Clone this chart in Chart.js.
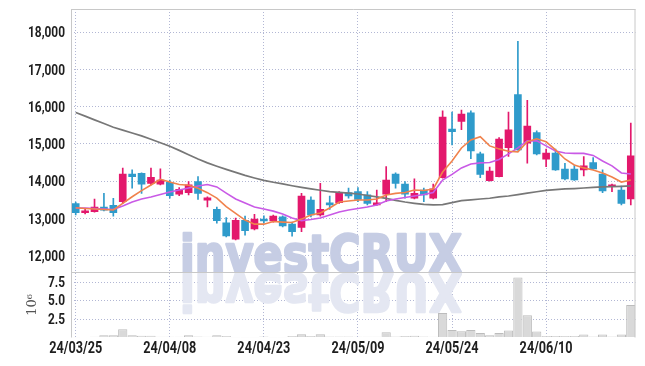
<!DOCTYPE html>
<html><head><meta charset="utf-8">
<script src="https://cdn.jsdelivr.net/npm/chart.js@4.4.1/dist/chart.umd.min.js"></script>
<style>html,body{margin:0;padding:0;background:#fff;}#wrap{width:645px;height:366px;}</style>
</head><body><div id="wrap"><canvas id="c" width="645" height="366"></canvas></div>
<script>
const dates = ["24/03/25","24/03/26","24/03/27","24/03/28","24/03/29","24/04/01","24/04/02","24/04/03","24/04/04","24/04/05",
"24/04/08","24/04/09","24/04/11","24/04/12","24/04/15","24/04/16","24/04/17","24/04/18","24/04/19","24/04/22",
"24/04/23","24/04/24","24/04/25","24/04/26","24/04/29","24/04/30","24/05/02","24/05/03","24/05/07","24/05/08",
"24/05/09","24/05/10","24/05/13","24/05/14","24/05/16","24/05/17","24/05/20","24/05/21","24/05/22","24/05/23",
"24/05/24","24/05/27","24/05/28","24/05/29","24/05/30","24/05/31","24/06/03","24/06/04","24/06/05","24/06/07",
"24/06/10","24/06/11","24/06/12","24/06/13","24/06/14","24/06/17","24/06/18","24/06/19","24/06/20","24/06/21"];
const openP = [13400,13150,13180,13300,13350,13450,14190,14210,13940,13920,
13970,13650,13690,13990,13490,13240,12880,12440,12950,12720,
12980,12930,13040,12850,12760,13490,13090,13420,13420,13690,
13720,13630,13360,13650,14190,13920,13540,13760,13540,14090,
15400,15600,15830,14730,14010,14120,14900,16320,15020,15300,
14590,14750,14320,14320,14300,14500,14190,13850,13760,13520];
const highP = [13440,13250,13520,13670,13540,14350,14300,14220,14350,14330,
14030,13830,13990,14120,13580,13300,13020,13010,13060,13110,
13070,13090,13070,12900,13670,13580,13940,13600,13720,13810,
13830,13720,13760,14390,14220,13990,14060,13810,13920,15890,
15850,15910,15890,14780,14380,15170,15850,17750,16170,15350,
14860,14860,14480,14420,14660,14630,14300,13920,13870,15560];
const lowP = [13090,13120,13170,13200,13060,13400,13810,13670,13900,13900,
13540,13610,13630,13510,13310,12870,12500,12420,12550,12690,
12870,12900,12770,12520,12640,13040,13060,13240,13400,13540,
13450,13360,13350,13450,13810,13540,13520,13450,13520,14080,
14970,15380,14600,14090,14000,14110,14660,14830,14480,14700,
14390,14290,14030,14020,14140,14320,13690,13720,13360,13360];
const closeP = [13150,13200,13300,13220,13150,14190,14120,13920,14100,14030,
13610,13780,13900,13670,13550,12940,12530,12950,12670,12980,
12930,13060,12800,12640,13600,13090,13240,13360,13690,13600,
13510,13400,13420,14030,13940,13650,13670,13630,13790,15720,
15330,15800,14810,14180,14270,15130,15380,14840,15480,14730,
14750,14300,14060,14030,14410,14330,13740,13900,13400,14680];
const maShort = [13285,13265,13250,13237,13225,13405,13580,13745,13895,14050,
13975,13910,13890,13810,13690,13545,13315,13135,12955,12845,
12845,12915,12900,12890,12980,13090,13145,13280,13440,13465,
13495,13495,13520,13630,13670,13695,13760,13750,13790,14245,
14540,14890,15105,15190,14945,14865,14800,14785,15055,15135,
15055,14840,14595,14435,14355,14300,14220,14110,13975,14030];
const maMid = [13280,13280,13265,13250,13237,13330,13440,13520,13575,13640,
13710,13760,13815,13870,13910,13845,13680,13520,13410,13305,
13250,13195,13115,13010,12940,12970,13010,13090,13170,13225,
13265,13305,13360,13465,13520,13560,13600,13640,13695,14030,
14180,14355,14460,14490,14500,14580,14730,14890,15080,15080,
14945,14810,14755,14745,14745,14690,14540,14410,14220,14190];
const maLong = [15840,15745,15645,15545,15445,15370,15290,15215,15125,15030,
14935,14825,14710,14595,14490,14400,14315,14235,14155,14085,
14020,13970,13925,13875,13830,13790,13755,13720,13700,13680,
13655,13615,13575,13535,13485,13440,13405,13375,13360,13370,
13425,13475,13495,13520,13540,13575,13600,13640,13680,13715,
13750,13770,13790,13800,13815,13830,13845,13850,13860,13870];
const volumeM = [0.05,0.08,0.1,0.3,0.3,1.1,0.3,0.25,0.25,0.1,
0.1,0.1,0.3,0.15,0.1,0.3,0.2,0.05,0.05,0.05,
0.15,0.05,0.05,0.2,0.45,0.2,0.45,0.15,0.15,0.15,
0.1,0.1,0.1,0.7,0.15,0.2,0.25,0.15,0.1,3.3,
1.0,0.85,1.0,0.6,0.3,0.6,0.95,8.1,3.0,0.8,
0.2,0.2,0.2,0.2,0.4,0.15,0.4,0.15,0.4,4.4];
const priceTicks = [12000,13000,14000,15000,16000,17000,18000];
const volTicks = [0,2.5,5,7.5];
const dateTickEvery = 10;

const UP = '#e3186c', DOWN = '#2f9bcb';
const GRID = 'rgba(165,170,205,0.85)';
const candleColor = (c) => closeP[c.dataIndex] >= openP[c.dataIndex] ? UP : DOWN;

function drawScaledText(ctx, txt, x, y, align, sx){
  const w = ctx.measureText(txt).width * sx;
  let left = align === 'right' ? x - w : align === 'center' ? x - w/2 : x;
  ctx.save(); ctx.translate(left, y); ctx.scale(sx, 1);
  ctx.textAlign = 'left'; ctx.fillText(txt, 0, 0); ctx.restore();
}

const deco = {
  id:'deco',
  beforeDatasetsDraw(chart){
    const ctx = chart.ctx, a = chart.chartArea;
    const base = chart.scales.yVol.top;
    ctx.save();
    ctx.beginPath(); ctx.rect(a.left, a.top, a.right-a.left, a.bottom-a.top); ctx.clip();
    ctx.font = 'bold 52px "DejaVu Sans","Liberation Sans",sans-serif';
    const txt = 'investCRUX';
    const w = ctx.measureText(txt).width;
    const sx = 282 / w;
    ctx.textBaseline = 'alphabetic';
    ctx.lineJoin = 'round';
    ctx.save(); ctx.translate(180, base); ctx.scale(sx, 1);
    ctx.fillStyle = 'rgb(198,205,228)'; ctx.strokeStyle = 'rgb(198,205,228)'; ctx.lineWidth = 2.5;
    ctx.fillText(txt, 0, 0); ctx.strokeText(txt, 0, 0); ctx.restore();
    ctx.save(); ctx.translate(180, base+2); ctx.scale(sx, -1);
    ctx.fillStyle = 'rgb(228,231,242)'; ctx.strokeStyle = 'rgb(228,231,242)'; ctx.lineWidth = 2.5;
    ctx.fillText(txt, 0, 0); ctx.strokeText(txt, 0, 0); ctx.restore();
    ctx.restore();
  },
  afterDatasetsDraw(chart){
    const ctx = chart.ctx, a = chart.chartArea;
    const sep = chart.scales.yVol.top;
    ctx.save();
    ctx.strokeStyle = '#c8c8c8'; ctx.lineWidth = 1;
    ctx.beginPath();
    ctx.moveTo(a.left+0.5, a.top); ctx.lineTo(a.left+0.5, a.bottom);
    ctx.moveTo(a.left, a.top+0.5); ctx.lineTo(a.right, a.top+0.5);
    ctx.moveTo(a.right-0.5, a.top); ctx.lineTo(a.right-0.5, a.bottom);
    ctx.moveTo(a.left, Math.round(sep)+0.5); ctx.lineTo(a.right, Math.round(sep)+0.5);
    ctx.stroke();
    ctx.restore();
  },
  afterDraw(chart){
    const ctx = chart.ctx;
    const sy = chart.scales.y, sv = chart.scales.yVol, sxs = chart.scales.x;
    ctx.save();
    ctx.fillStyle = '#1e1e1e';
    ctx.textBaseline = 'middle';
    ctx.font = 'bold 15.5px Roboto, "DejaVu Sans", sans-serif';
    const pScale = 37 / ctx.measureText('18,000').width;
    priceTicks.forEach(v => drawScaledText(ctx, v.toLocaleString('en-US'), 65, sy.getPixelForValue(v)+1.5, 'right', pScale));
    volTicks.forEach(v => { if (v !== 0) drawScaledText(ctx, v.toFixed(1), 65, sv.getPixelForValue(v)+1, 'right', pScale); });
    ctx.font = 'bold 16.5px Roboto, "DejaVu Sans", sans-serif';
    const xScale = 53 / ctx.measureText('24/03/25').width;
    dates.forEach((d,i) => { if (i % dateTickEvery === 0) drawScaledText(ctx, d, sxs.getPixelForValue(i), 349, 'center', xScale); });
    ctx.restore();
    ctx.save();
    ctx.translate(33, (sv.top+sv.bottom)/2);
    ctx.rotate(-Math.PI/2);
    ctx.fillStyle = '#555';
    ctx.font = '13px "DejaVu Serif",serif';
    ctx.textAlign = 'center'; ctx.textBaseline = 'middle';
    ctx.fillText('10\u2076', 0, 0);
    ctx.restore();
  }
};

new Chart(document.getElementById('c'), {
  type:'bar',
  data:{
    labels: dates,
    datasets:[
      {type:'line', data: maShort, borderColor:'#f0824c', borderWidth:1.6, pointRadius:0, yAxisID:'y', order:0, tension:0},
      {type:'line', data: maMid, borderColor:'#c95ae6', borderWidth:1.6, pointRadius:0, yAxisID:'y', order:0, tension:0},
      {type:'line', data: maLong, borderColor:'#777777', borderWidth:1.7, pointRadius:0, yAxisID:'y', order:0, tension:0},
      {data: dates.map((d,i)=>[openP[i], closeP[i]]), backgroundColor: candleColor, barThickness:7, minBarLength:2, grouped:false, yAxisID:'y', order:1, borderWidth:0},
      {data: dates.map((d,i)=>[lowP[i], highP[i]]), backgroundColor: candleColor, barThickness:1, grouped:false, yAxisID:'y', order:2, borderWidth:0},
      {data: volumeM, backgroundColor:'#d9d9d9', borderColor:'#bcbcbc', borderWidth:1, barPercentage:1, categoryPercentage:0.98, grouped:false, yAxisID:'yVol', order:3}
    ]
  },
  options:{
    responsive:false, animation:false, devicePixelRatio:1,
    layout:{padding:{left:0, right:9.5, top:9, bottom:0}},
    plugins:{legend:{display:false}, tooltip:{enabled:false}},
    scales:{
      x:{type:'category', offset:true,
        grid:{offset:false, drawTicks:false, color:(c)=> c.index % dateTickEvery === 0 ? GRID : 'rgba(0,0,0,0)'},
        border:{display:false, dash:[1,2]},
        ticks:{display:false, autoSkip:false},
        afterFit:(s)=>{ s.height = 28.5; }
      },
      y:{type:'linear', position:'left', stack:'p', stackWeight:263, weight:2, min:11550, max:18620,
        afterBuildTicks:(s)=>{ s.ticks = priceTicks.map(v=>({value:v})); },
        grid:{drawTicks:false, color:GRID},
        border:{display:false, dash:[1,2]},
        ticks:{display:false},
        afterFit:(s)=>{ s.width = 71; }
      },
      yVol:{type:'linear', position:'left', stack:'p', stackWeight:65, weight:1, min:0, max:8.8,
        afterBuildTicks:(s)=>{ s.ticks = volTicks.map(v=>({value:v})); },
        grid:{drawTicks:false, color:(c)=> c.tick && c.tick.value === 0 ? 'rgba(0,0,0,0)' : GRID},
        border:{display:false, dash:[1,2]},
        ticks:{display:false},
        afterFit:(s)=>{ s.width = 71; }
      }
    }
  },
  plugins:[deco]
});
</script></body></html>
